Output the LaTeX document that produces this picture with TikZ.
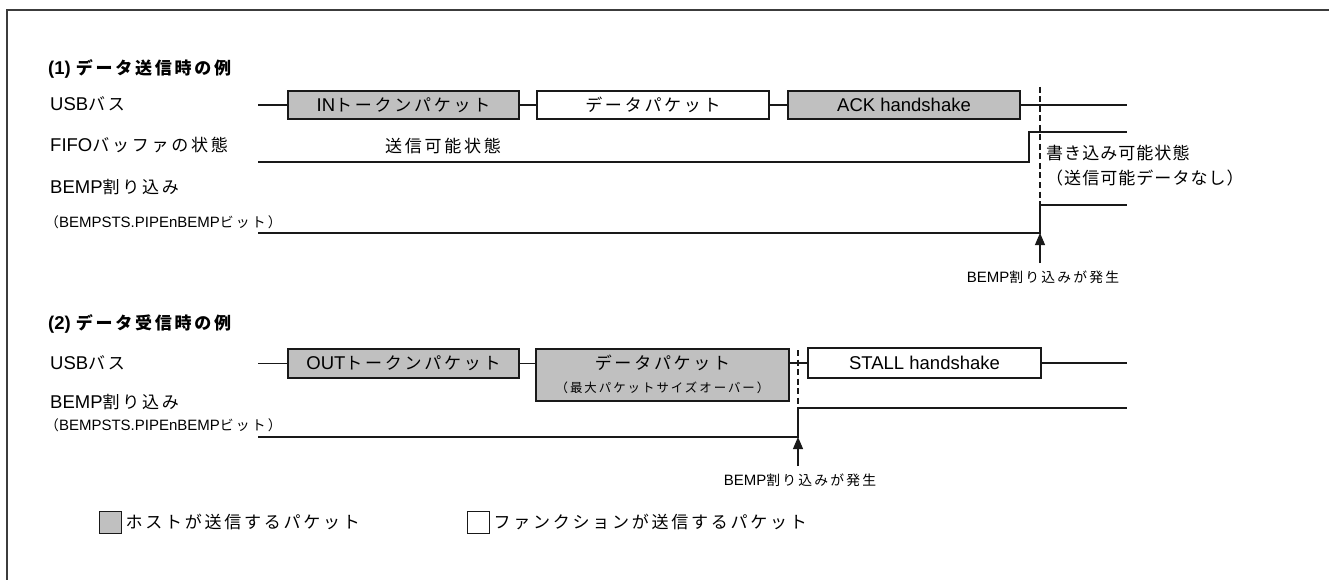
\documentclass[tikz,border=0pt]{standalone}
\usepackage{fontspec}
\setmainfont{Liberation Sans}
\newfontfamily\jpfont[Scale=0.92, LetterSpace=16]{Noto Sans CJK JP}
\newfontfamily\jptight[Scale=0.92, LetterSpace=6]{Noto Sans CJK JP}
\usetikzlibrary{arrows.meta,positioning}
\definecolor{pktgrey}{RGB}{192,192,192}
\definecolor{wavedark}{RGB}{25,25,25}
\definecolor{framegrey}{RGB}{60,60,60}
\newcommand{\jp}[1]{{\jpfont #1}}
\newcommand{\jpt}[1]{{\jptight #1}}
\newcommand{\mainsize}{\fontsize{18.5}{21}\selectfont}
\newcommand{\subsize}{\fontsize{15}{17}\selectfont}

\begin{document}
\begin{tikzpicture}[x=1pt, y=-1pt,
    lbl/.style={anchor=west, inner sep=0pt, font=\mainsize},
    sublbl/.style={anchor=west, inner sep=0pt, font=\subsize},
    ttl/.style={anchor=west, inner sep=0pt, font=\mainsize\bfseries},
    pkt/.style={draw=wavedark, line width=1.3pt, minimum height=28pt,
                inner sep=0pt, font=\mainsize},
    hostpkt/.style={pkt, fill=pktgrey},
    funcpkt/.style={pkt, fill=white},
    keybox/.style={draw=wavedark, line width=1pt, minimum width=22pt,
                   minimum height=22pt, inner sep=0pt},
    wave/.style={draw=wavedark, line width=1.2pt},
    dashmark/.style={draw=wavedark, line width=1.2pt, dash pattern=on 6pt off 3.5pt},
    evt/.style={draw=wavedark, line width=1.1pt,
                -{Triangle[length=12pt, width=10pt]}},
  ]
  \useasboundingbox (0,0) rectangle (1329,580);
  % outer frame
  \draw[framegrey, line width=2pt] (7,580) -- (7,10) -- (1329,10);

  % --- (1) transmit ---
  \node[ttl] (title1) at (48,69) {(1) \jp{データ送信時の例}};
  \node[lbl] (bus1lbl) at (50,104) {USB\jp{バス}};
  \node[lbl] (fifolbl) at (50,145) {FIFO\jp{バッファの状態}};
  \node[lbl] (bemp1lbl) at (50,187) {BEMP\jp{割り込み}};
  \node[sublbl] (bemp1sub) at (45,222) {\jp{（}BEMPSTS.PIPEnBEMP\jp{ビット）}};

  \node[hostpkt, minimum width=231pt] (intok) at (403.5,105) {IN\jp{トークンパケット}};
  \node[funcpkt, minimum width=232pt] (datatx) at (653,105) {\jp{データパケット}};
  \node[hostpkt, minimum width=232pt] (ackhs) at (904,105) {ACK handshake};
  \coordinate (bus1l) at (258,105);
  \coordinate (bus1r) at (1127,105);
  \draw[wave] (bus1l) -- (intok.west);
  \draw[wave] (intok.east) -- (datatx.west);
  \draw[wave] (datatx.east) -- (ackhs.west);
  \draw[wave] (ackhs.east) -- (bus1r);

  % FIFO state
  \draw[wave] (258,162) -- (1029,162) -- (1029,132) -- (1127,132);
  \node[lbl, anchor=center] (txok) at (443,146) {\jp{送信可能状態}};
  \node[lbl] (wrok) at (1046,153) {\jpt{書き込み可能状態}};
  \node[lbl] (nodata) at (1046,178) {\jpt{（送信可能データなし）}};

  % BEMP interrupt
  \coordinate (irq1) at (1040,233);
  \draw[wave] (258,233) -- (irq1) -- (1040,205) -- (1127,205);
  \draw[dashmark] (1040,87) -- (1040,205);
  \node[sublbl, anchor=center] (irq1lbl) at (1043,277) {BEMP\jp{割り込みが発生}};
  \draw[evt] (1040,263) -- (irq1);

  % --- (2) receive ---
  \node[ttl] (title2) at (48,324) {(2) \jp{データ受信時の例}};
  \node[lbl] (bus2lbl) at (50,363) {USB\jp{バス}};
  \node[lbl] (bemp2lbl) at (50,402) {BEMP\jp{割り込み}};
  \node[sublbl] (bemp2sub) at (45,425) {\jp{（}BEMPSTS.PIPEnBEMP\jp{ビット）}};

  \node[hostpkt, minimum width=231pt, minimum height=29pt] (outtok) at (403.5,363.5)
    {OUT\jp{トークンパケット}};
  \node[hostpkt, minimum width=253pt, minimum height=52pt] (datarx) at (662.5,375) {};
  \node[inner sep=0pt, font=\mainsize] (datarxtxt) at (662.5,363) {\jp{データパケット}};
  \node[inner sep=0pt, font=\fontsize{13.5}{15}\selectfont] (datarxsub) at (662.5,388)
    {\jp{（最大パケットサイズオーバー）}};
  \node[funcpkt, minimum width=233pt, minimum height=30pt] (stallhs) at (924.5,363)
    {STALL handshake};
  \coordinate (bus2l) at (258,363.5);
  \coordinate (bus2r) at (1127,363);
  \draw[wave] (bus2l) -- (outtok.west);
  \draw[wave] (outtok.east) -- (outtok.east -| datarx.west);
  \draw[wave] (stallhs.west -| datarx.east) -- (stallhs.west);
  \draw[wave] (stallhs.east) -- (bus2r);

  \coordinate (irq2) at (798,437);
  \draw[wave] (258,437) -- (irq2) -- (798,408) -- (1127,408);
  \draw[dashmark] (798,350) -- (798,408);
  \node[sublbl, anchor=center] (irq2lbl) at (800,480) {BEMP\jp{割り込みが発生}};
  \draw[evt] (798,466) -- (irq2);

  % --- legend ---
  \node[keybox, fill=pktgrey] (keyhost) at (110,522) {};
  \node[lbl, right=4pt of keyhost] (keyhosttxt) {\jp{ホストが送信するパケット}};
  \node[keybox, fill=white] (keyfunc) at (478,522) {};
  \node[lbl, right=4pt of keyfunc] (keyfunctxt) {\jp{ファンクションが送信するパケット}};
\end{tikzpicture}
\end{document}
